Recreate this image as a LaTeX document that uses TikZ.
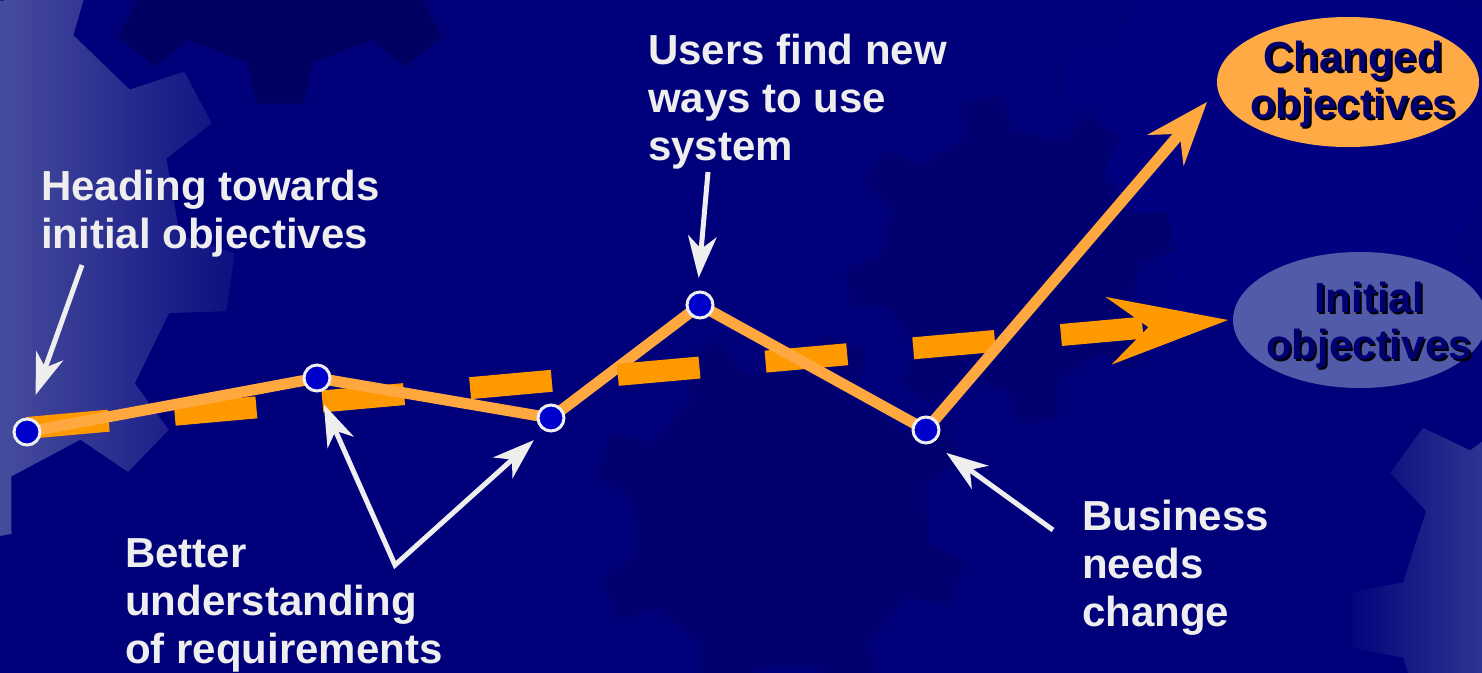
\documentclass[tikz,border=0pt]{standalone}
\usepackage{fontspec}
\setmainfont{Liberation Sans}
\usetikzlibrary{arrows.meta,shapes.geometric,calc}
\pgfdeclarelayer{bg}
\pgfdeclarelayer{fg}
\pgfsetlayers{bg,main,fg}
\definecolor{bgnavy}{RGB}{0,0,122}
\definecolor{gearlight}{RGB}{72,78,158}
\definecolor{gearright}{RGB}{48,54,146}
\definecolor{geardark}{RGB}{0,0,96}
\definecolor{gearmid}{RGB}{0,0,112}
\definecolor{gearpale}{RGB}{0,0,128}
\definecolor{linegold}{RGB}{255,168,64}
\definecolor{dashorange}{RGB}{255,153,0}
\definecolor{dotblue}{RGB}{0,0,204}
\definecolor{chgfill}{RGB}{255,170,68}
\definecolor{inifill}{RGB}{82,90,170}
\definecolor{labelwhite}{RGB}{238,238,238}
\definecolor{ovaltext}{RGB}{0,0,112}
\newcommand\gearpath[4]{({#4+90/#3}:#1)
  \foreach \k in {1,...,#3}{
    -- ({#4+\k*360/#3-90/#3}:#1)
    -- ({#4+\k*360/#3-55/#3}:#2)
    -- ({#4+\k*360/#3+55/#3}:#2)
    -- ({#4+\k*360/#3+90/#3}:#1)} -- cycle}
\tikzset{
  dot/.style={circle, fill=dotblue, draw=labelwhite, line width=3pt, minimum size=26pt, inner sep=0pt},
  lbl/.style={text=labelwhite, font=\fontsize{42}{48}\selectfont\bfseries, align=left, anchor=north west, inner sep=0pt},
  oval/.style={ellipse, inner sep=0pt, outer sep=0pt},
  ovaltxt/.style={text=ovaltext, font=\fontsize{42}{47}\selectfont\bfseries, align=center, inner sep=0pt},
  ovalshadow/.style={ovaltxt, text=black},
  seg/.style={draw=linegold, line width=11pt},
  goldarrow/.style={seg, -{Stealth[length=64pt,width=48pt,inset=22pt,line width=0pt]}},
  dasharrow/.style={draw=dashorange, line width=22pt, dash pattern=on 82pt off 66.3pt,
    -{Stealth[length=120pt,width=68pt,inset=40pt,line width=0pt]}},
  warrow/.style={draw=labelwhite, line width=5pt, -{Stealth[length=42pt,width=29pt,inset=13pt,line width=0pt]}},
  wboth/.style={draw=labelwhite, line width=5pt, miter limit=10,
    {Stealth[length=42pt,width=29pt,inset=13pt,line width=0pt]}-{Stealth[length=42pt,width=29pt,inset=13pt,line width=0pt]}}
}
\begin{document}
\begin{tikzpicture}[x=1pt,y=-1pt]
\useasboundingbox (0,0) rectangle (1482,672);
\begin{pgfonlayer}{bg}
  \fill[bgnavy] (-6,-6) rectangle (1488,678);
  \begin{scope}
  \clip (-6,-6) rectangle (1488,678);
  % background gears
  \fill[gearpale, shift={(1300,120)}] \gearpath{200}{240}{10}{12};
  \fill[geardark, shift={(280,-120)}] \gearpath{185}{225}{9}{90};
  \fill[gearmid, shift={(780,520)}] \gearpath{150}{190}{8}{20};
  \fill[gearmid, shift={(1010,260)}] \gearpath{130}{165}{8}{35};
  \begin{scope}
    \clip[shift={(-70,240)}] \gearpath{250}{305}{10}{8};
    \shade[left color=gearlight, right color=bgnavy] (-6,-6) rectangle (290,678);
  \end{scope}
  \begin{scope}
    \clip[shift={(1640,620)}] \gearpath{240}{290}{10}{0};
    \shade[left color=bgnavy, right color=gearright] (1340,300) rectangle (1488,678);
  \end{scope}
  \end{scope}
\end{pgfonlayer}

\begin{pgfonlayer}{fg}
  \node[dot] (p1) at (27,432) {};
  \node[dot] (p2) at (317,378) {};
  \node[dot] (p3) at (551,418) {};
  \node[dot] (p4) at (700,305) {};
  \node[dot] (p5) at (926,430) {};

  \node[oval, fill=chgfill, minimum width=262pt, minimum height=130pt] (chg) at (1348,82) {};
  \node[ovalshadow] (chgs) at (1355,86) {Changed\\objectives};
  \node[ovaltxt] (chgt) at (1353,84) {Changed\\objectives};

  \node[oval, fill=inifill, minimum width=254pt, minimum height=136pt] (ini) at (1360,320) {};
  \node[ovalshadow] (inis) at (1371,327) {Initial\\objectives};
  \node[ovaltxt] (init) at (1369,325) {Initial\\objectives};

  \node[lbl] (head) at (41,170) {Heading towards\\initial objectives};
  \node[lbl] (users) at (648,34) {Users find new\\ways to use\\system};
  \node[lbl] (better) at (125,538) {Better\\understanding\\of requirements};
  \node[lbl] (business) at (1082,500) {Business\\needs\\change};
\end{pgfonlayer}

\coordinate (hstart) at (82,265);
\coordinate (ustart) at (708,172);
\coordinate (bvtx) at (395,565);
\coordinate (bstart) at (1053,530);
\coordinate (chgtip) at (1207,102);

% path segments and the planned direction
\draw[seg] (p3.center) -- (p4.center);
\draw[dasharrow] ($(p1)+(0,-4)$) -- ([xshift=-5pt]ini.west);
\draw[seg, line join=round] (p1.center) -- (p2.center) -- (p3.center);
\draw[seg, line join=round] (p4.center) -- (p5.center);
\draw[goldarrow] (p5.center) -- (chgtip);

% annotation arrows
\draw[warrow, shorten >=24pt] (hstart) -- (p1.88);
\draw[warrow, shorten >=13pt] (ustart) -- (p4.100);
\draw[wboth, shorten <=13pt, shorten >=14pt] (p2.-84) -- (bvtx) -- (p3.-118);
\draw[warrow, shorten >=17pt] (bstart) -- (p5.-63);
\end{tikzpicture}
\end{document}
